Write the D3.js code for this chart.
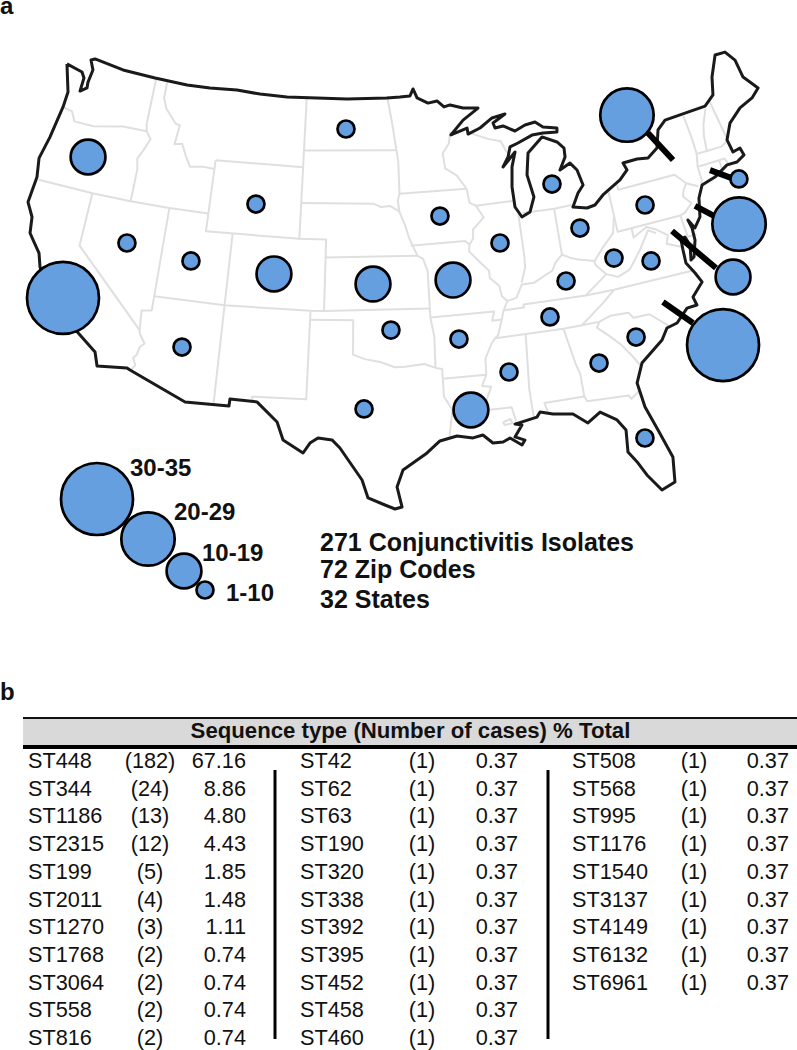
<!DOCTYPE html>
<html>
<head>
<meta charset="utf-8">
<style>
  body { margin: 0; background: #fff; }
  text { font-family: "Liberation Sans", Arial, sans-serif; fill: #111; }
  .bold { font-weight: bold; }
  .state { fill: none; stroke: #dfdfdf; stroke-width: 2; stroke-linejoin: round; }
  .outline { fill: none; stroke: #1a1a1a; stroke-width: 3; stroke-linejoin: round; }
  .leader { stroke: #000; stroke-width: 6; }
  .bubble { fill: #659fdf; stroke: #000; stroke-width: 2.7; }
</style>
</head>
<body>
<svg id="chart" width="797" height="1050"></svg>
<script src="https://cdn.jsdelivr.net/npm/d3@7"></script>
<script>
// national outline, lon/lat
var outlineCoords = [[-124.73,48.63],[-123.31,48.42],[-123.01,48.12],[-123.03,47.36],[-122.54,47.63],[-122.59,47.96],[-122.46,48.68],[-122.85,49.20],[-122.54,49.31],[-119.97,49.08],[-117.14,49.01],[-114.34,48.93],[-112.36,48.96],[-110.05,49.03],[-108.05,48.93],[-105.74,48.88],[-100.62,48.87],[-97.21,48.89],[-96.10,48.91],[-95.24,48.94],[-94.95,49.32],[-94.65,48.80],[-93.75,48.47],[-92.98,48.55],[-92.43,48.18],[-91.91,48.26],[-90.85,48.01],[-89.60,47.91],[-90.95,47.34],[-92.06,46.58],[-90.69,46.87],[-90.66,46.53],[-89.63,46.79],[-88.55,47.26],[-87.44,47.38],[-88.52,46.97],[-88.41,46.68],[-87.74,46.73],[-86.83,46.35],[-85.95,46.59],[-85.10,46.66],[-84.53,46.31],[-83.43,46.11],[-83.49,45.89],[-84.61,45.98],[-85.52,45.97],[-86.74,45.66],[-87.42,45.51],[-87.69,44.97],[-88.19,44.46],[-87.08,45.19],[-87.49,44.39],[-87.71,43.28],[-87.70,42.15],[-87.29,41.54],[-86.63,41.75],[-86.16,42.54],[-86.42,43.82],[-86.07,45.02],[-84.75,45.77],[-83.64,45.34],[-83.18,44.93],[-83.24,44.43],[-83.82,43.77],[-82.95,44.04],[-82.52,43.58],[-82.30,42.69],[-82.80,42.31],[-83.38,41.60],[-82.36,41.39],[-81.73,41.46],[-80.98,41.91],[-79.46,42.51],[-78.75,42.96],[-78.92,43.39],[-77.79,43.41],[-76.95,43.31],[-76.07,43.71],[-75.60,44.66],[-74.84,45.08],[-71.46,45.14],[-70.57,45.58],[-70.15,46.54],[-69.28,47.64],[-68.42,47.60],[-67.89,46.98],[-67.79,45.93],[-67.00,45.05],[-67.74,44.66],[-68.91,44.38],[-70.06,43.78],[-70.72,42.95],[-70.60,42.20],[-70.00,42.28],[-69.89,41.84],[-70.57,41.60],[-71.35,41.63],[-72.50,41.20],[-73.60,41.00],[-74.11,40.36],[-74.45,39.33],[-75.03,38.82],[-75.35,39.36],[-75.23,38.86],[-75.27,38.17],[-75.68,37.27],[-75.94,37.16],[-75.71,37.98],[-75.90,38.49],[-76.23,38.39],[-76.29,37.82],[-76.34,37.07],[-75.92,36.39],[-75.63,35.80],[-76.51,35.12],[-76.40,34.63],[-77.10,34.61],[-78.01,33.94],[-78.75,33.81],[-79.26,33.22],[-80.90,32.21],[-81.49,31.16],[-81.32,29.73],[-80.84,28.28],[-80.32,26.57],[-80.54,25.13],[-81.40,24.84],[-82.09,25.88],[-82.47,26.66],[-82.94,27.40],[-82.79,28.66],[-83.22,29.33],[-84.18,29.96],[-85.06,29.47],[-85.90,30.12],[-87.16,30.30],[-87.96,30.52],[-88.20,30.26],[-89.64,30.03],[-89.21,29.93],[-89.74,29.30],[-89.14,29.05],[-89.36,28.79],[-90.06,29.27],[-90.52,29.09],[-91.16,29.10],[-91.74,29.61],[-92.38,29.50],[-93.38,29.69],[-94.48,29.48],[-95.33,28.84],[-96.87,27.93],[-97.27,26.97],[-97.00,25.80],[-97.43,25.70],[-98.03,25.95],[-99.05,26.38],[-99.41,27.42],[-100.80,29.26],[-101.31,29.72],[-102.20,29.82],[-102.70,29.52],[-103.11,28.94],[-104.41,29.64],[-104.86,30.65],[-106.25,31.72],[-108.02,31.77],[-108.04,31.37],[-110.90,31.34],[-114.79,32.69],[-115.01,32.78],[-116.98,32.59],[-117.30,33.34],[-118.53,34.11],[-120.03,34.99],[-121.17,35.93],[-122.36,37.32],[-122.69,38.06],[-123.36,38.68],[-123.71,39.01],[-123.90,39.90],[-124.50,40.64],[-124.40,42.12],[-124.67,43.16],[-124.33,44.45],[-124.01,46.26],[-123.97,47.14],[-124.73,48.63]];

// state lines, one list per border stretch
var stateLines = [
  [[-124.0,46.25],[-123.2,46.15],[-122.8,45.65],[-121.2,45.65],[-119.3,45.93],[-118.98,46.0],[-116.92,46.0]],
  [[-117.03,49],[-117.04,46.4],[-116.92,46.0],[-116.48,45.6],[-116.85,44.95],[-117.2,44.4],[-117.03,43.83],[-117.03,42]],
  [[-124.2,42],[-120,42],[-117.03,42],[-114.04,42],[-111.05,42]],
  [[-120,42],[-120,39],[-114.63,35]],
  [[-114.04,42],[-114.04,36.2],[-114.74,36.1],[-114.63,35],[-114.57,34.8],[-114.14,34.3],[-114.43,34.05],[-114.53,33.6],[-114.72,33.4],[-114.5,33],[-114.72,32.72]],
  [[-114.04,37],[-109.05,37],[-103,37],[-102.05,37],[-94.62,37]],
  [[-109.05,41],[-109.05,31.33]],
  [[-111.05,45],[-104.05,45],[-104.05,41],[-111.05,41],[-111.05,45]],
  [[-104.05,41],[-102.05,41],[-102.05,37]],
  [[-103,37],[-103.05,32],[-106.6,32],[-106.53,31.78]],
  [[-116.05,49],[-116.05,48],[-115.7,47.45],[-114.7,46.7],[-114.35,46.65],[-114.5,45.55],[-113.9,45.65],[-113.45,45],[-113,44.45],[-112,44.55],[-111.05,44.5]],
  [[-104.05,49],[-104.05,45]],
  [[-104.05,45.94],[-96.56,45.94]],
  [[-104.05,43],[-98.5,43],[-97.9,42.8],[-97.2,42.85],[-96.5,42.5]],
  [[-102.05,40],[-95.3,40]],
  [[-97.2,49],[-96.85,47.5],[-96.56,45.94],[-96.45,45.3],[-96.45,43.5],[-96.6,43.1],[-96.5,42.5],[-96.1,41.7],[-95.85,41],[-95.3,40],[-94.9,39.8],[-94.62,39.1],[-94.62,36.5],[-94.43,35.4],[-94.48,33.64]],
  [[-96.45,43.5],[-91.22,43.5]],
  [[-92.1,46.75],[-92.3,46.1],[-92.85,45.6],[-92.75,44.75],[-91.9,44.3],[-91.22,43.5],[-91.1,42.7],[-90.64,42.5],[-90.15,41.8],[-91.05,41.2],[-91.1,40.7],[-91.42,40.38],[-91.5,40],[-90.75,39.3],[-90.2,38.8],[-90.2,38.4],[-89.6,37.9],[-89.5,37.3],[-89.15,37],[-89.5,36.5],[-89.7,36],[-90.07,35.15],[-90.3,35],[-90.6,34.7],[-91.1,33.9],[-91.15,33],[-91.5,32.4],[-90.9,32.3],[-91.6,31],[-89.73,31],[-89.55,30.2]],
  [[-95.77,40.58],[-91.73,40.61],[-91.42,40.38]],
  [[-90.4,46.55],[-89.1,46.13],[-88.1,45.9],[-87.8,45.35],[-87.6,45.1]],
  [[-90.64,42.5],[-87.8,42.5]],
  [[-87.53,41.7],[-87.53,39.35],[-87.6,38.7],[-88,37.9]],
  [[-84.8,41.7],[-84.82,39.1]],
  [[-87.2,41.76],[-84.8,41.7],[-83.45,41.73]],
  [[-89.15,37],[-88.5,37.1],[-88,37.8],[-87.1,37.8],[-86.3,38.1],[-85.7,38.3],[-85.4,38.7],[-84.82,39.1],[-84.3,38.85],[-83.7,38.65],[-82.6,38.4],[-81.75,39.1],[-80.87,39.7],[-80.52,40.64]],
  [[-80.52,42],[-80.52,39.72],[-75.79,39.72],[-75.4,39.8],[-75.1,40],[-74.75,40.2],[-75.2,40.7],[-75.05,41],[-74.7,41.36],[-75.35,42],[-79.76,42],[-79.76,42.27]],
  [[-74.7,41.36],[-73.9,41]],
  [[-73.65,41],[-73.5,41.3],[-73.5,42.05],[-73.27,42.75],[-73.25,43.6],[-73.35,45]],
  [[-73.5,42.05],[-71.8,42.02],[-71.8,41.4]],
  [[-71.8,42.02],[-71.38,42.02],[-71.15,41.5]],
  [[-73.27,42.75],[-72.46,42.73],[-71.3,42.7],[-70.82,42.87]],
  [[-72.46,42.73],[-72.3,43.6],[-72.05,44.2],[-71.5,45]],
  [[-70.7,43.1],[-71,45.3]],
  [[-75.79,39.72],[-75.7,38.46],[-75.05,38.45]],
  [[-75.9,37.95],[-75.25,38.03]],
  [[-79.48,39.72],[-79.48,39.2],[-78.4,39.6],[-77.75,39.32],[-77.05,38.85],[-77.3,38.4],[-76.3,38]],
  [[-81.97,37.54],[-81.2,37.25],[-80.3,37.5],[-79.3,38.4],[-78.35,39.4],[-77.83,39.13]],
  [[-82.6,38.4],[-82.6,38.17],[-81.97,37.54],[-83.68,36.6]],
  [[-89.5,36.5],[-88.07,36.5],[-88.07,36.68],[-83.68,36.6],[-81.68,36.59],[-75.87,36.55]],
  [[-89.7,36],[-90.37,36],[-90.15,36.5],[-94.62,36.5]],
  [[-94.04,33],[-91.15,33]],
  [[-94.48,33.64],[-94.04,33.55],[-94.04,31.98],[-93.55,31.2],[-93.85,29.7]],
  [[-103,36.5],[-100,36.5],[-100,34.56],[-99.2,34.3],[-98.1,34.1],[-97.2,33.8],[-96.5,33.8],[-95.2,33.9],[-94.48,33.64]],
  [[-90.3,35],[-85.6,34.98],[-84.32,34.99],[-83.1,35]],
  [[-81.68,36.59],[-82.6,36],[-84.32,34.99]],
  [[-83.1,35],[-82.3,35.2],[-81.05,35.15],[-80.78,34.82],[-79.67,34.8],[-78.55,33.86]],
  [[-83.1,35],[-83.35,34.7],[-82.75,34.2],[-82,33.5],[-81.4,32.7],[-81,32.03]],
  [[-85.6,34.98],[-85.18,32.87],[-85,32.3],[-85,31],[-84.86,30.7],[-82.2,30.57],[-82.05,30.35],[-81.45,30.7]],
  [[-87.45,30.4],[-87.6,31],[-85,31]],
  [[-88.2,35],[-88.45,31.9],[-88.4,30.3]],
  [[-90.4,30.2],[-89.9,30.35],[-89.8,30.1],[-90.3,30.05],[-90.4,30.2]]
];

// sampling sites
var siteLon = [-121.01,-100.67,-107.52,-116.67,-111.84,-105.75,-98.59,-120.25,-111.60,-97.39,-99.27,-84.63,-93.44,-89.17,-83.17,-78.09,-77.67,-70.86,-71.93,-92.84,-84.86,-81.20,-78.68,-73.49,-75.47,-86.38,-92.76,-89.63,-92.36,-80.90,-83.66,-81.74];
var siteLat = [43.91,47.19,42.79,39.68,39.25,38.97,38.51,35.94,34.40,35.90,31.48,43.08,42.12,40.27,40.37,40.81,45.93,40.67,38.28,38.49,37.60,38.33,37.69,35.56,32.04,35.76,35.16,33.01,31.10,33.72,32.71,27.99];
var siteClass = ["10-19","1-10","1-10","1-10","1-10","10-19","10-19","30-35","1-10","1-10","1-10","1-10","1-10","1-10","1-10","1-10","20-29","1-10","20-29","10-19","1-10","1-10","1-10","10-19","30-35","1-10","1-10","1-10","10-19","1-10","1-10","1-10"];

// thick leaders from the coast out to the offshore circles
var leaderLines = [
  [[-76.43,44.65],[-75.14,42.81]],
  [[-72.69,41.66],[-71.39,40.87]],
  [[-74.56,40.00],[-73.46,39.15]],
  [[-76.68,39.01],[-74.43,36.33]],
  [[-78.58,35.29],[-76.98,33.71]]
];

var sizeClasses = ["1-10","10-19","20-29","30-35"];
var summaryLines = ["271 Conjunctivitis Isolates","72 Zip Codes","32 States"];

// table b
var tableTitle = "Sequence type (Number of cases) % Total";
var col1Types = ["ST448","ST344","ST1186","ST2315","ST199","ST2011","ST1270","ST1768","ST3064","ST558","ST816"];
var col1Cases = [182,24,13,12,5,4,3,2,2,2,2];
var col1Pct = ["67.16","8.86","4.80","4.43","1.85","1.48","1.11","0.74","0.74","0.74","0.74"];
var col2Types = ["ST42","ST62","ST63","ST190","ST320","ST338","ST392","ST395","ST452","ST458","ST460"];
var col2Cases = [1,1,1,1,1,1,1,1,1,1,1];
var col2Pct = ["0.37","0.37","0.37","0.37","0.37","0.37","0.37","0.37","0.37","0.37","0.37"];
var col3Types = ["ST508","ST568","ST995","ST1176","ST1540","ST3137","ST4149","ST6132","ST6961"];
var col3Cases = [1,1,1,1,1,1,1,1,1];
var col3Pct = ["0.37","0.37","0.37","0.37","0.37","0.37","0.37","0.37","0.37"];

//=================================================================

var svg = d3.select("#chart");

// Albers base, then a small affine to sit on the picture
var albers = d3.geoAlbers().parallels([33, 52]).rotate([99, 0]).center([0, 0]).scale(1).translate([0, 0]);
function place(lon, lat) {
    var p = albers([lon, lat]);
    return [1030.73 * p[0] + 7.30 * p[1] + 371.92, -17.25 * p[0] + 1012.30 * p[1] + 924.18];
}
var mapPath = d3.geoPath().projection(d3.geoTransform({
    point: function(lon, lat) {
        var p = place(lon, lat);
        this.stream.point(p[0], p[1]);
    }
}));

var radius = d3.scaleOrdinal().domain(sizeClasses).range([8.5, 17.4, 26.7, 36]);

var map = svg.append("g");

map.selectAll(".state")
    .data(stateLines)
    .enter()
    .append("path")
        .attr("class", "state")
        .attr("d", function(d) { return mapPath({type: "LineString", coordinates: d}); });

map.append("path")
    .attr("class", "outline")
    .attr("d", mapPath({type: "LineString", coordinates: outlineCoords}));

map.selectAll(".leader")
    .data(leaderLines)
    .enter()
    .append("path")
        .attr("class", "leader")
        .attr("d", function(d) { return mapPath({type: "LineString", coordinates: d}); });

// Circles
map.selectAll(".site")
    .data(siteClass)
    .enter()
    .append("circle")
        .attr("class", "bubble site")
        .attr("cx", function(d, i) { return place(siteLon[i], siteLat[i])[0]; })
        .attr("cy", function(d, i) { return place(siteLon[i], siteLat[i])[1]; })
        .attr("r", function(d) { return radius(d); });

// Panel letters
svg.append("text").attr("class", "bold").attr("x", 0).attr("y", 14).style("font-size", "24px").text("a");
svg.append("text").attr("class", "bold").attr("x", 0).attr("y", 700).style("font-size", "24px").text("b");

// Legend, largest circle drawn first
var legendCx = d3.scaleOrdinal().domain(sizeClasses).range([205, 184, 148, 97]);
var legendCy = d3.scaleOrdinal().domain(sizeClasses).range([590, 571, 539, 499]);
var legendTx = d3.scaleOrdinal().domain(sizeClasses).range([226, 202, 174, 130]);
var legendTy = d3.scaleOrdinal().domain(sizeClasses).range([601, 561, 520, 476]);

svg.selectAll(".key")
    .data(sizeClasses.slice().reverse())
    .enter()
    .append("circle")
        .attr("class", "bubble key")
        .attr("cx", function(d) { return legendCx(d); })
        .attr("cy", function(d) { return legendCy(d); })
        .attr("r", function(d) { return radius(d); });

svg.selectAll(".key-label")
    .data(sizeClasses)
    .enter()
    .append("text")
        .attr("class", "bold key-label")
        .attr("x", function(d) { return legendTx(d); })
        .attr("y", function(d) { return legendTy(d); })
        .style("font-size", "24px")
        .text(function(d) { return d; });

// Summary
var summaryY = d3.scaleOrdinal().domain(summaryLines).range([551, 578, 608]);
svg.selectAll(".summary")
    .data(summaryLines)
    .enter()
    .append("text")
        .attr("class", "bold summary")
        .attr("x", 320)
        .attr("y", function(d) { return summaryY(d); })
        .style("font-size", "25px")
        .text(function(d) { return d; });

// Table
svg.append("rect").attr("x", 23).attr("y", 719).attr("width", 774).attr("height", 26).attr("fill", "#d9d9d9");
svg.append("line").attr("x1", 23).attr("x2", 797).attr("y1", 718).attr("y2", 718).attr("stroke", "#111").attr("stroke-width", 2);
svg.append("line").attr("x1", 23).attr("x2", 797).attr("y1", 747).attr("y2", 747).attr("stroke", "#000").attr("stroke-width", 4);
svg.append("text").attr("class", "bold").attr("x", 410.5).attr("y", 738)
    .attr("text-anchor", "middle").style("font-size", "22.2px").text(tableTitle);

var rowY = d3.scaleLinear().domain([0, 10]).range([768, 1045]);

function tableColumn(types, cases, pct, xName, xCases, xPct) {
    var g = svg.append("g").style("font-size", "21.7px");
    types.forEach(function(name, i) {
        g.append("text").attr("x", xName).attr("y", rowY(i)).text(name);
        g.append("text").attr("x", xCases).attr("y", rowY(i)).attr("text-anchor", "middle").text("(" + cases[i] + ")");
        g.append("text").attr("x", xPct).attr("y", rowY(i)).attr("text-anchor", "end").text(pct[i]);
    });
}
tableColumn(col1Types, col1Cases, col1Pct, 28, 150, 246);
tableColumn(col2Types, col2Cases, col2Pct, 300, 422, 518);
tableColumn(col3Types, col3Cases, col3Pct, 572, 694, 789);

[275, 548].forEach(function(x) {
    svg.append("line").attr("x1", x).attr("x2", x).attr("y1", 770).attr("y2", 1039)
        .attr("stroke", "#000").attr("stroke-width", 3);
});
</script>
</body>
</html>
